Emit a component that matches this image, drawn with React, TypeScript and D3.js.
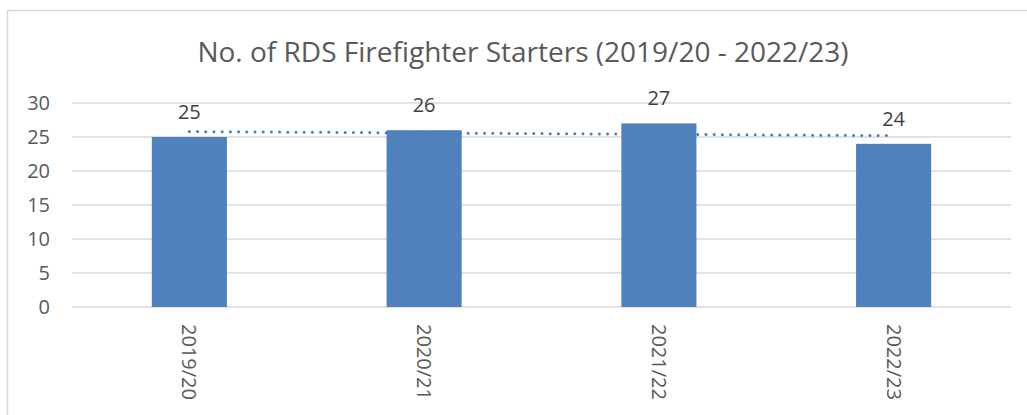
import React from "react";
import { scaleBand, scaleLinear, line } from "d3";

// chart data
const seasons = ["2019/20", "2020/21", "2021/22", "2022/23"];
const starters = [25, 26, 27, 24];
const yTicks = [0, 5, 10, 15, 20, 25, 30];
const chartTitle = "No. of RDS Firefighter Starters (2019/20 - 2022/23)";

const W = 1027;
const H = 415;
const font = "'Open Sans', 'Noto Sans', sans-serif";

export default function App() {
  const x = scaleBand<string>().domain(seasons).range([72, 1011]).paddingInner(0.68).paddingOuter(0.34);
  const y = scaleLinear().domain([0, 30]).range([307, 103]);

  // linear trend line (least squares) through the bar values
  const n = starters.length;
  const mx = (n - 1) / 2;
  const my = starters.reduce((a, b) => a + b, 0) / n;
  let num = 0, den = 0;
  starters.forEach((v, i) => {
    num += (i - mx) * (v - my);
    den += (i - mx) * (i - mx);
  });
  const slope = num / den;
  const trend = seasons.map((s, i) => ({ s, v: my + slope * (i - mx) }));
  const trendEnds = [trend[0], trend[trend.length - 1]];
  const trendPath = line<{ s: string; v: number }>()
    .x(d => (x(d.s) as number) + x.bandwidth() / 2)
    .y(d => y(d.v))(trendEnds);

  return (
    <svg width={W} height={H} style={{ position: "fixed", left: 0, top: 0, background: "#fff" }}>
      <rect x={7.5} y={10.5} width={W + 10} height={H + 10} fill="#fff" stroke="#d9d9d9" strokeWidth={1.5} />
      <text x={523} y={62} textAnchor="middle" fontFamily={font} fontSize={28} fill="#595959">
        {chartTitle}
      </text>

      {yTicks.map(t => (
        <g key={t}>
          <line x1={72} x2={1011} y1={y(t)} y2={y(t)} stroke="#d9d9d9" strokeWidth={1.5} />
          <text x={50} y={y(t) + 7} textAnchor="end" fontFamily={font} fontSize={20} fill="#595959">
            {t}
          </text>
        </g>
      ))}

      {seasons.map((s, i) => (
        <rect key={s} x={x(s)} y={y(starters[i])} width={x.bandwidth()} height={y(0) - y(starters[i])} fill="#4f81bd" />
      ))}

      <path d={trendPath || ""} fill="none" stroke="#4a7ebb" strokeWidth={3} strokeDasharray="0 8.2" strokeLinecap="round" />

      {seasons.map((s, i) => (
        <text
          key={"l" + s}
          x={(x(s) as number) + x.bandwidth() / 2}
          y={y(starters[i]) - 18}
          textAnchor="middle"
          fontFamily={font}
          fontSize={20}
          fill="#404040"
        >
          {starters[i]}
        </text>
      ))}

      {seasons.map(s => {
        const cx = (x(s) as number) + x.bandwidth() / 2;
        return (
          <text
            key={"x" + s}
            transform={`translate(${cx - 7},324) rotate(90)`}
            textAnchor="start"
            fontFamily={font}
            fontSize={20}
            fill="#595959"
          >
            {s}
          </text>
        );
      })}
    </svg>
  );
}
